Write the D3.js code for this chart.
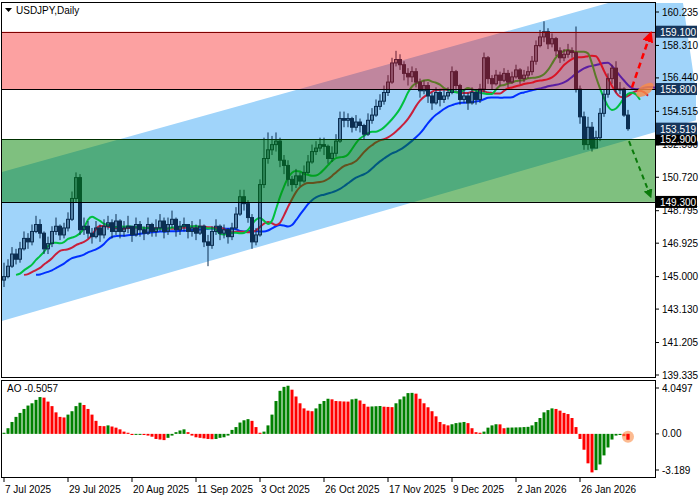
<!DOCTYPE html>
<html><head><meta charset="utf-8">
<script src="https://cdn.jsdelivr.net/npm/d3@7"></script>
<style>body{margin:0;background:#fff}svg{display:block;font-family:"Liberation Sans",Arial,sans-serif}</style>
</head><body><svg id="c" width="700" height="500"></svg>
<script>
const closes=[145.0,145.6,146.3,146.0,146.6,147.2,147.0,147.6,148.0,147.5,
146.6,146.9,147.6,147.9,147.4,147.8,148.3,149.5,150.7,147.7,
147.9,147.5,147.3,147.8,147.4,147.9,148.1,147.6,148.2,147.6,
147.8,147.9,147.4,148.0,147.7,147.5,148.0,147.6,147.8,148.2,
147.6,148.0,148.3,147.7,147.9,148.0,147.6,147.8,147.5,147.9,
147.0,146.8,147.6,147.9,147.5,147.7,147.3,147.8,148.6,149.6,
149.2,148.4,147.0,147.4,150.3,151.8,152.3,152.6,152.8,151.7,
151.4,150.6,150.3,150.8,150.5,151.0,151.6,152.2,152.4,152.6,
152.5,151.8,152.1,152.8,154.1,154.0,154.1,153.6,153.9,153.7,
153.2,154.0,154.3,154.8,155.1,155.6,156.2,157.3,157.5,157.2,
156.7,156.5,156.8,156.2,155.7,156.0,155.4,155.0,155.6,155.2,
155.4,155.6,156.8,156.0,155.2,155.4,155.0,155.6,155.2,155.8,
157.6,156.4,156.1,156.6,156.3,156.7,156.2,156.5,156.9,156.4,
156.6,156.8,157.4,158.3,158.8,159.1,158.4,158.7,158.0,157.6,
157.8,158.0,157.9,155.8,154.2,152.6,153.6,152.4,153.0,154.4,
155.5,156.4,157.0,155.8,155.8,154.3,153.519];
const highs=[145.8,146.0,146.7,146.6,147.0,147.6,147.5,148.0,148.5,148.3,
147.6,147.3,147.9,148.4,148.0,148.1,148.7,149.9,151.0,150.9,
148.4,148.2,147.8,148.2,148.0,148.3,148.5,148.3,148.6,148.3,
148.2,148.5,147.9,148.4,148.2,147.9,148.4,148.1,148.3,148.6,
148.4,148.4,148.8,148.4,148.2,148.4,148.0,148.2,148.0,148.3,
148.0,147.4,147.9,148.3,148.0,148.0,147.8,148.1,149.0,150.0,
150.0,149.4,148.6,147.8,150.6,153.0,153.3,153.1,153.3,153.0,
152.0,151.7,150.8,151.2,151.0,151.4,152.0,152.6,152.8,153.0,
153.0,152.6,152.5,153.2,154.5,154.5,154.4,154.2,154.3,154.1,
153.8,154.4,154.7,155.2,155.5,156.0,156.6,157.6,158.0,157.8,
157.4,157.0,157.1,157.0,156.4,156.3,156.2,155.6,155.9,155.8,
155.8,155.9,157.1,156.9,156.1,155.8,155.6,155.9,155.8,156.1,
157.9,157.7,156.6,156.9,156.8,157.0,156.9,156.8,157.2,157.0,
156.9,157.1,157.7,158.6,159.2,159.7,159.3,159.0,158.8,158.2,
158.1,158.4,158.2,159.4,156.0,154.5,154.2,153.9,153.4,154.7,
155.8,156.7,157.2,157.4,156.2,155.9,154.6];
const lows=[144.4,144.9,145.5,145.7,145.8,146.5,146.6,146.8,147.5,147.2,
146.3,146.3,146.7,147.4,147.1,147.2,147.6,148.2,149.3,147.4,
147.4,147.2,146.9,147.2,147.0,147.2,147.7,147.2,147.4,147.2,
147.3,147.5,147.0,147.3,147.3,147.1,147.4,147.3,147.3,147.6,
147.2,147.4,147.8,147.3,147.4,147.6,147.2,147.3,147.1,147.4,
146.7,145.6,146.6,147.4,147.1,147.2,146.9,147.1,147.7,148.5,
148.8,148.1,146.6,146.8,147.3,150.1,151.5,152.0,152.2,151.3,
150.9,150.2,149.9,150.1,150.2,150.4,150.9,151.5,152.0,152.2,
152.0,151.5,151.6,151.9,152.7,153.6,153.6,153.3,153.4,153.3,
152.9,153.1,153.8,154.2,154.6,154.9,155.4,156.1,157.1,156.9,
156.3,156.0,156.2,155.9,155.3,155.5,155.0,154.6,154.9,154.8,
155.0,155.2,155.5,155.7,154.9,155.0,154.6,154.9,154.9,155.0,
155.6,156.1,155.8,156.0,156.0,156.2,155.9,156.1,156.4,156.1,
156.2,156.4,156.6,157.2,158.2,158.5,158.1,158.2,157.7,157.3,
157.4,157.6,157.6,155.6,153.8,152.3,152.3,152.2,152.4,152.8,
154.2,155.3,156.1,155.6,155.5,154.2,153.4];
const firstOpen=144.8;
const aoValues=[0.1,0.5,1.05,1.5,1.85,2.2,2.5,2.7,3.0,3.25,3.2,2.85,2.45,1.9,1.5,1.45,1.7,2.0,2.45,2.75,
2.55,2.2,1.7,1.15,0.7,0.68,0.75,0.65,0.55,0.4,0.2,0.1,-0.1,-0.05,-0.04,-0.1,-0.15,-0.25,-0.45,-0.5,
-0.55,-0.35,-0.15,0.15,0.3,0.4,0.15,-0.15,-0.3,-0.35,-0.4,-0.45,-0.47,-0.45,-0.35,-0.3,-0.15,0.35,0.6,1.0,
1.2,1.3,1.15,0.6,0.1,0.2,0.75,1.7,2.9,3.8,4.15,4.25,3.9,3.3,2.7,2.25,2.05,2.0,2.25,2.65,
2.9,3.1,3.05,2.9,2.88,2.86,2.85,3.05,3.1,2.95,2.65,2.4,2.42,2.44,2.46,2.4,2.38,2.36,2.7,3.05,
3.3,3.6,3.62,3.55,3.1,2.7,2.35,2.0,1.55,1.05,0.85,0.75,0.85,0.95,1.0,1.05,0.95,0.5,0.15,0.1,
0.2,0.55,0.75,0.85,0.84,0.5,0.55,0.56,0.57,0.58,0.6,0.62,0.75,1.05,1.4,1.9,2.1,2.25,2.2,2.05,
1.85,1.75,1.4,0.6,-0.45,-1.4,-2.6,-3.4,-3.2,-2.7,-1.9,-1.2,-0.5,-0.15,-0.1,-0.2,-0.5057];
const dateLabels=["7 Jul 2025","29 Jul 2025","20 Aug 2025","11 Sep 2025","3 Oct 2025","26 Oct 2025","17 Nov 2025","9 Dec 2025","2 Jan 2026","26 Jan 2026"];
const priceTicks=[160.235,158.310,156.440,154.515,152.590,150.720,148.795,146.925,145.000,143.130,141.205,139.335];
const levels=[{v:159.100,bg:"#16365c"},{v:155.800,bg:"#16365c"},{v:152.900,bg:"#000"},{v:149.300,bg:"#000"}];
const lastPrice=153.519;
const zoneRed=[159.1,155.8], zoneGreen=[152.9,149.3];
const channel={i0:0,i1:163,up0:150.97,up1:161.52,lo0:142.39,lo1:153.33};
const aoTicks=[4.0497,0.00,-3.189];

const svg=d3.select("#c");
const N=closes.length;
const x=d3.scaleLinear().domain([0,N-1]).range([4,628]);
const y=d3.scaleLinear().domain([139.335,160.235]).range([375,12]);
const ya=d3.scaleLinear().domain([-3.189,4.0497]).range([470,388]);
const opens=closes.map((c,i)=>i?closes[i-1]:firstOpen);
const defs=svg.append("defs");
defs.append("clipPath").attr("id","cp").append("rect").attr("x",1).attr("y",3).attr("width",654).attr("height",374);
["red","green"].forEach(c=>defs.append("marker").attr("id","ar"+c).attr("viewBox","0 0 10 10").attr("refX",6).attr("refY",5).attr("markerWidth",4.5).attr("markerHeight",4.5).attr("orient","auto")
 .append("path").attr("d","M0,0L10,5L0,10z").attr("fill",c=="red"?"#f00":"#0a7a0a"));
defs.append("clipPath").attr("id","cpc").append("path").attr("d","M1,3L683,3L700,119L700,377L1,377Z");

const g=svg.append("g");
const cx=i=>x(i);
g.append("path").attr("fill","#a0d4fa")
 .attr("d",`M${cx(channel.i0)-5},${y(channel.up0)}L${cx(channel.i1)+40},${y(channel.up1)-40*0.28}L${cx(channel.i1)+40},${y(channel.lo1)-40*0.29}L${cx(channel.i0)-5},${y(channel.lo0)}Z`)
 .attr("clip-path","url(#cpc)");

const pg=g.append("g").attr("clip-path","url(#cp)");
function smma(p,sh){const med=closes.map((c,i)=>(highs[i]+lows[i])/2);let out=[],v=med[0];med.forEach((m,i)=>{v=i==0?m:(v*(p-1)+m)/p;out.push([i+sh,v]);});return out;}
const line=d3.line().x(d=>x(d[0])).y(d=>y(d[1])).curve(d3.curveMonotoneX);
[[13,8,"#0030ff"],[8,5,"#c8203c"],[5,3,"#00c040"]].forEach(([p,s,c])=>pg.append("path").attr("d",line(smma(p,s))).attr("fill","none").attr("stroke",c).attr("stroke-width",2));
const cc="#0b2e52";
const cg=pg.selectAll("g.k").data(closes).join("g");
cg.append("line").attr("x1",(d,i)=>x(i)).attr("x2",(d,i)=>x(i)).attr("y1",(d,i)=>y(highs[i])).attr("y2",(d,i)=>y(lows[i])).attr("stroke",cc);
cg.append("rect").attr("x",(d,i)=>x(i)-1.5).attr("width",3)
 .attr("y",(d,i)=>y(Math.max(d,opens[i]))).attr("height",(d,i)=>Math.max(1,Math.abs(y(d)-y(opens[i]))))
 .attr("fill",(d,i)=>d>=opens[i]?"none":cc).attr("stroke",cc).attr("stroke-width",1);
pg.append("rect").attr("x",0).attr("width",656).attr("y",y(zoneRed[0])).attr("height",y(zoneRed[1])-y(zoneRed[0])).attr("fill","rgba(247,0,0,0.37)");
pg.append("rect").attr("x",0).attr("width",656).attr("y",y(zoneGreen[0])).attr("height",y(zoneGreen[1])-y(zoneGreen[0])).attr("fill","rgba(0,129,0,0.5)");
[["#800000",159.1],["#000",155.8],["#003000",152.9],["#000",149.3]].forEach(([c,v])=>pg.append("line").attr("x1",0).attr("x2",656).attr("y1",Math.round(y(v))+.5).attr("y2",Math.round(y(v))+.5).attr("stroke",c));
g.append("ellipse").attr("cx",645).attr("cy",y(155.75)).attr("rx",10).attr("ry",5).attr("transform",`rotate(-35,645,${y(155.75)})`).attr("fill","rgba(250,140,70,0.8)");
g.append("line").attr("x1",632).attr("y1",y(155.9)).attr("x2",650).attr("y2",y(158.9)).attr("stroke","#f00").attr("stroke-width",2.5).attr("stroke-dasharray","6,4").attr("marker-end","url(#arred)");
g.append("line").attr("x1",629).attr("y1",y(152.8)).attr("x2",650).attr("y2",y(149.7)).attr("stroke","#0a7a0a").attr("stroke-width",2).attr("stroke-dasharray","5,4").attr("marker-end","url(#argreen)");

svg.append("rect").attr("x",1.5).attr("y",2.5).attr("width",654).attr("height",375).attr("fill","none").attr("stroke","#000");
svg.append("rect").attr("x",1.5).attr("y",380.5).attr("width",654).attr("height",97).attr("fill","none").attr("stroke","#000");
const fs=10;
priceTicks.forEach(v=>{const yy=y(v);svg.append("line").attr("x1",655).attr("x2",659).attr("y1",yy).attr("y2",yy).attr("stroke","#000");
 svg.append("text").attr("x",662).attr("y",yy+3.5).attr("font-size",fs).text(v.toFixed(3));});
levels.forEach(l=>{const yy=y(l.v);svg.append("rect").attr("x",656).attr("y",yy-6).attr("width",41).attr("height",12).attr("fill",l.bg);
 svg.append("text").attr("x",660).attr("y",yy+4).attr("font-size",fs).attr("fill","#fff").text(l.v.toFixed(3));});
{const yy=y(lastPrice);svg.append("rect").attr("x",656).attr("y",yy-6).attr("width",41).attr("height",12).attr("fill","#16365c");
 svg.append("text").attr("x",660).attr("y",yy+4).attr("font-size",fs).attr("fill","#fff").text(lastPrice.toFixed(3));}
svg.append("path").attr("d","M5,8L12,8L8.5,12Z").attr("fill","#000");
svg.append("text").attr("x",16).attr("y",14).attr("font-size",10).text("USDJPY,Daily");
const ag=svg.append("g");
ag.selectAll("rect").data(aoValues).join("rect").attr("x",(d,i)=>x(i)-1.5).attr("width",3)
 .attr("y",d=>Math.min(ya(d),ya(0))).attr("height",d=>Math.max(1,Math.abs(ya(d)-ya(0))))
 .attr("fill",(d,i)=>i==0||d>aoValues[i-1]?"#008000":"#ff0000");
ag.append("circle").attr("cx",x(N-1)).attr("cy",ya(-0.25)).attr("r",6).attr("fill","rgba(250,140,70,0.6)");
ag.append("rect").attr("x",x(N-1)-1.5).attr("width",3).attr("y",ya(0)).attr("height",ya(-0.5057)-ya(0)).attr("fill","#ff0000");
svg.append("text").attr("x",7).attr("y",392).attr("font-size",10).text("AO -0.5057");
aoTicks.forEach(v=>{const yy=ya(v);svg.append("line").attr("x1",655).attr("x2",659).attr("y1",yy).attr("y2",yy).attr("stroke","#000");
 svg.append("text").attr("x",662).attr("y",yy+3.5).attr("font-size",fs).text(v===0?"0.00":String(v));});
dateLabels.forEach((t,k)=>{const xx=x(k*16);svg.append("line").attr("x1",xx).attr("x2",xx).attr("y1",478).attr("y2",482).attr("stroke","#000");
 svg.append("text").attr("x",xx+1).attr("y",493).attr("font-size",fs).text(t);});
</script></body></html>
